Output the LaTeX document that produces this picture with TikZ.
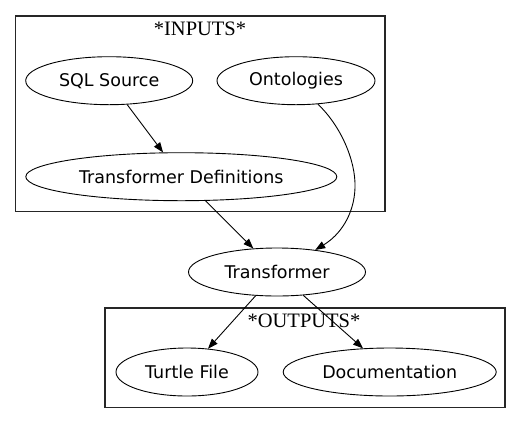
\documentclass[tikz,border=0pt]{standalone}
\usepackage{fontspec}
\setmainfont{DejaVu Sans}
\newfontfamily\clusterfont{Liberation Serif}
\usetikzlibrary{shapes.geometric,arrows.meta}
\tikzset{
  ell/.style={draw, ellipse, line width=0.9pt, inner sep=0pt, minimum height=48pt, font=\fontsize{17.5}{20}\selectfont},
  cluster/.style={draw=black!85, line width=1.1pt},
  clab/.style={font=\clusterfont\fontsize{20.5}{23}\selectfont, inner sep=0pt},
  edge/.style={line width=0.9pt, -{Triangle[length=10pt,width=7.5pt]}}
}
\begin{document}
\begin{tikzpicture}[x=1pt,y=-1pt]
\useasboundingbox (0,0) rectangle (521,424);
\draw[cluster] (15.5,16) rectangle (385,211.5);
\draw[cluster] (105,308) rectangle (505,407.5);
\node[clab] (inlab) at (200,29) {*INPUTS*};
\node[clab] (outlab) at (304,321) {*OUTPUTS*};
\node[ell, minimum width=167pt] (sql) at (109.2,80.7) {SQL Source};
\node[ell, minimum width=158pt] (ont) at (296,80.7) {Ontologies};
\node[ell, minimum width=311pt] (td) at (181.3,176.7) {Transformer Definitions};
\node[ell, minimum width=177pt] (tr) at (277,272) {Transformer};
\node[ell, minimum width=142pt] (tf) at (187,372) {Turtle File};
\node[ell, minimum width=213pt] (doc) at (389.7,372) {Documentation};
\draw[edge] (sql) -- (td);
\draw[edge] (td) -- (tr);
\draw[edge] (tr) -- (tf);
\draw[edge] (tr) -- (doc);
\coordinate (mid) at (355,188);
\draw[edge] (ont.-47) .. controls (340,125) and (356,160) .. (mid) .. controls (354,215) and (340,235) .. (tr.30);
\end{tikzpicture}
\end{document}
